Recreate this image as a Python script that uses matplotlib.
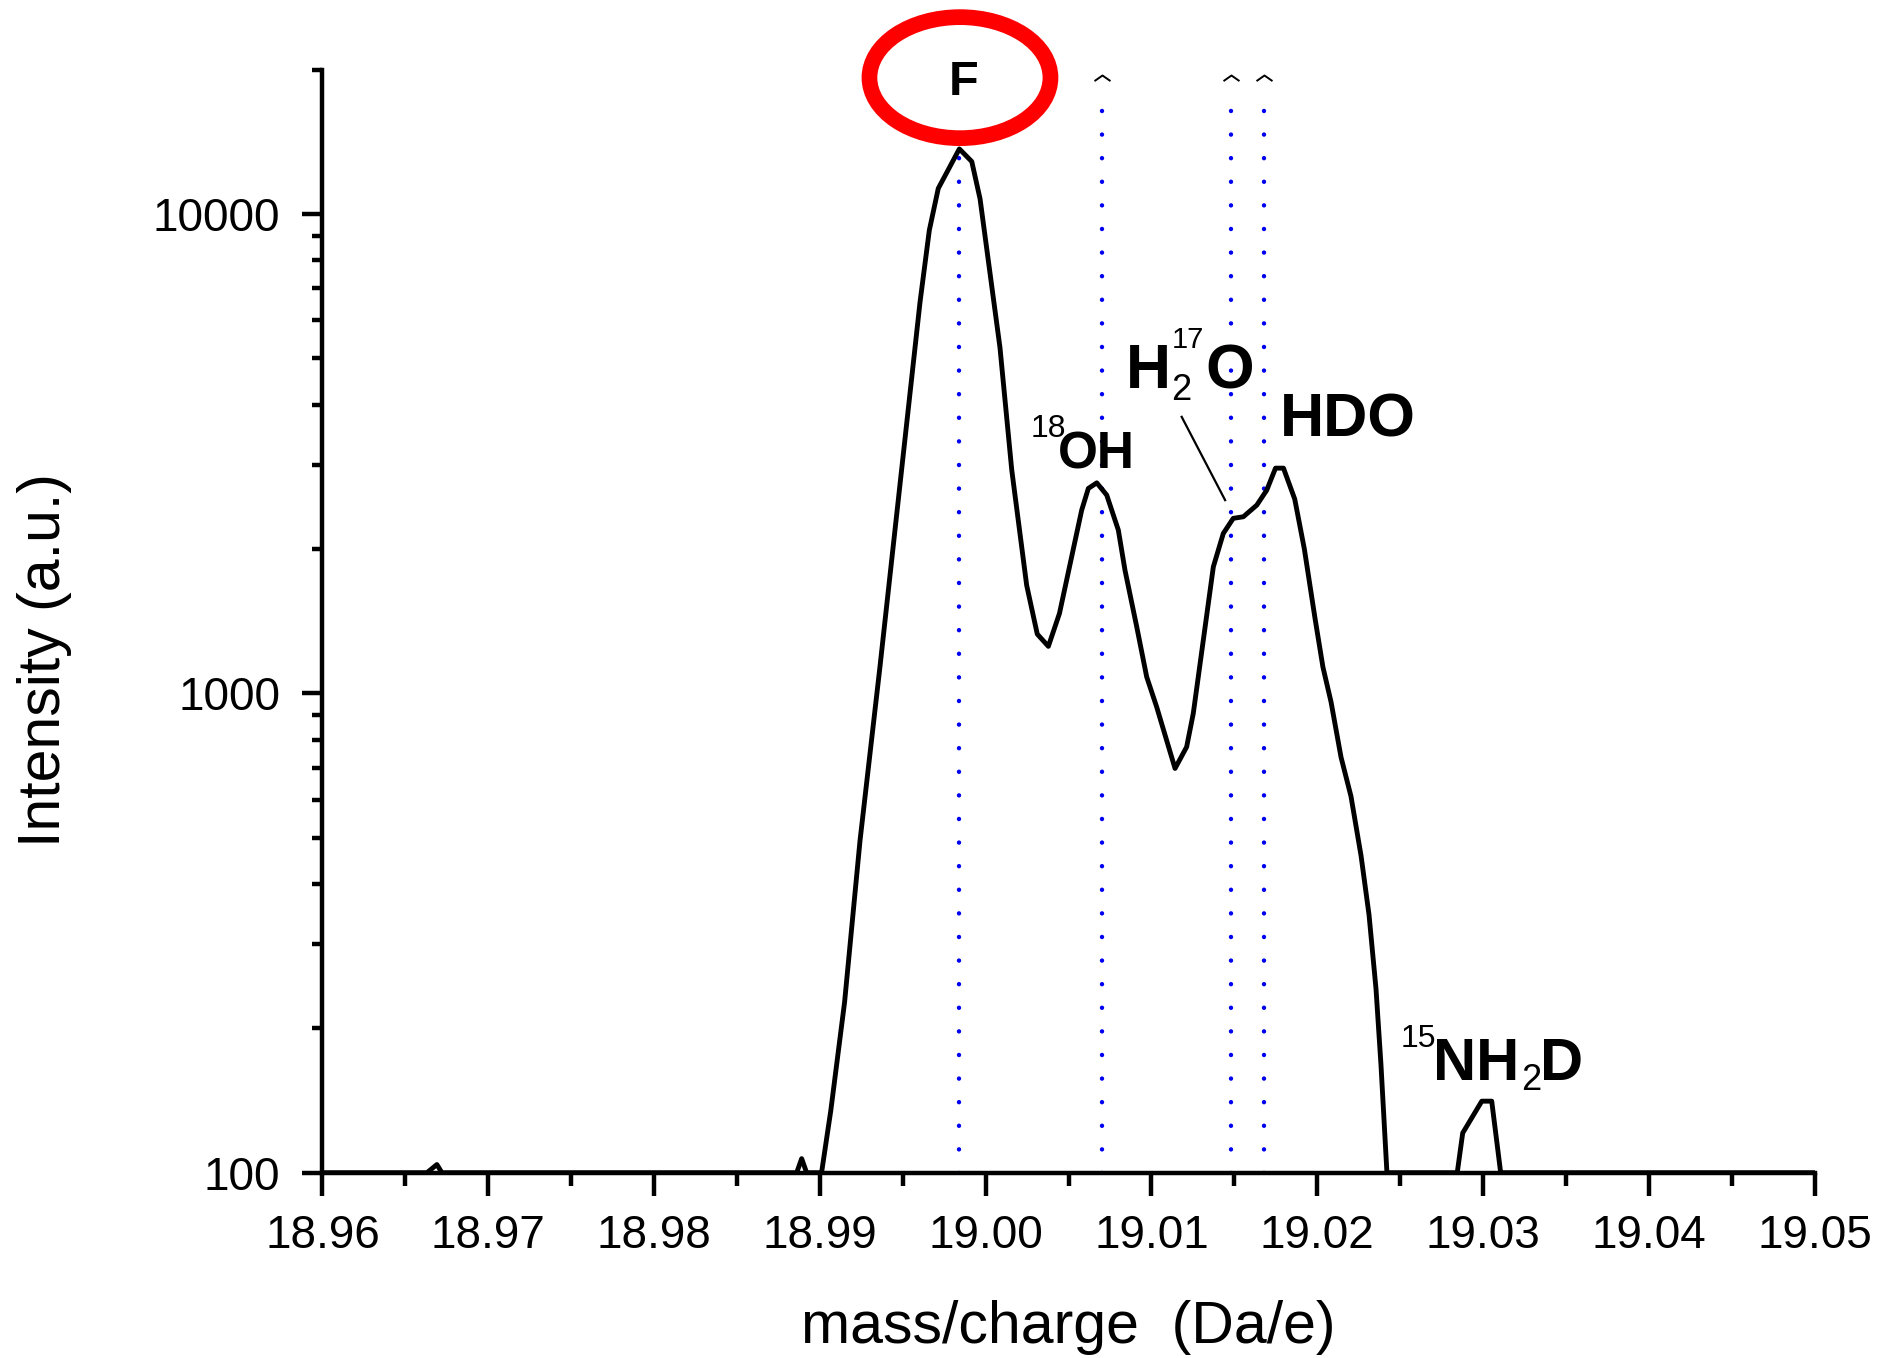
import numpy as np
import matplotlib
matplotlib.use('Agg')
import matplotlib.pyplot as plt
from matplotlib.patches import Ellipse
from matplotlib.path import Path
from matplotlib.ticker import AutoMinorLocator, LogLocator, NullFormatter

plt.rcParams['font.family'] = ['Liberation Sans', 'DejaVu Sans']

# spectrum (mass/charge, intensity)
mass = [18.9600, 18.9663, 18.9669, 18.9672, 18.9886, 18.9889, 18.9892,
        18.9901, 18.99066, 18.99149, 18.99242, 18.99363, 18.99604, 18.99660,
        18.99714, 18.99765, 18.99841, 18.99916, 18.99966, 19.00086, 19.00157,
        19.00247, 19.00311, 19.00378, 19.00445, 19.00579, 19.00619, 19.00670,
        19.00730, 19.00800, 19.00840, 19.00911, 19.00971, 19.01031, 19.01142,
        19.01212, 19.01252, 19.01373, 19.01433, 19.01493, 19.01554, 19.01635,
        19.01695, 19.01748, 19.01796, 19.01864, 19.01922, 19.01986, 19.02034,
        19.02083, 19.02143, 19.02203, 19.02264, 19.02312, 19.02354, 19.02384,
        19.02420, 19.02844, 19.02877, 19.02992, 19.03052, 19.03106, 19.0500]
intensity = [100, 100, 104, 100, 100, 107, 100,
             100, 135, 227, 493, 1142, 6552, 9247,
             11303, 12196, 13664, 12861, 10748, 5265, 2925,
             1681, 1329, 1253, 1468, 2411, 2675, 2748,
             2591, 2190, 1807, 1376, 1082, 937, 697,
             773, 908, 1836, 2155, 2317, 2335, 2469,
             2653, 2949, 2949, 2541, 1999, 1435, 1134,
             959, 736, 610, 458, 345, 242, 168,
             100, 100, 121, 141, 141, 100, 100]
assert len(mass) == len(intensity)

# reference ion positions (dotted lines)
ion_mass = [18.9984, 19.0070, 19.0148, 19.0168]
ion_top = [15800, 17600, 17600, 17600]
caret_y = 19470

xticks = [18.96, 18.97, 18.98, 18.99, 19.00, 19.01, 19.02, 19.03, 19.04, 19.05]
yticks = [100, 1000, 10000]

fig = plt.figure(figsize=(18.82, 13.58), dpi=100)
ax = fig.add_axes([0.17136, 0.13645, 0.79288, 0.81230])
ax.set_yscale('log')
ax.set_xlim(18.96, 19.05)
ax.set_ylim(100, 20000)

# blue dotted ion lines
for m, top in zip(ion_mass, ion_top):
    ax.plot([m, m], [100, top], color='#0000f0', lw=3.2,
            linestyle=(0, (0.01, 5.3)), dash_capstyle='round', zorder=2)
caret = Path([[-1, -0.7], [0, 0], [1, -0.7]], [Path.MOVETO, Path.LINETO, Path.LINETO])
ax.plot(ion_mass[1:], [caret_y] * 3, linestyle='none', marker=caret, ms=11.5,
        mfc='none', mec='black', mew=1.4, clip_on=False, zorder=3)

ax.plot(mass, intensity, color='black', lw=3.5, zorder=3)

# labels
bold = dict(fontweight='bold', ha='left', va='baseline', color='black')
small = dict(ha='left', va='baseline', color='black')
ax.text(18.99869, 17690, 'F', fontsize=35, fontweight='bold', ha='center',
        va='baseline', zorder=6)
ax.text(19.00268, 3428, '18', fontsize=23, **small)
ax.text(19.00436, 2944, 'OH', fontsize=37, **bold)
ax.text(19.00846, 4324, 'H', fontsize=45, **bold)
ax.text(19.01118, 4088, '2', fontsize=26, **small)
ax.text(19.01120, 5248, '17', fontsize=21, **small)
ax.text(19.01322, 4324, 'O', fontsize=45, **bold)
ax.text(19.01775, 3428, 'HDO', fontsize=44, **bold)
ax.text(19.02500, 183.2, '15', fontsize=23, **small)
ax.text(19.02700, 156.1, 'NH', fontsize=43, **bold)
ax.text(19.03232, 148.8, '2', fontsize=26, **small)
ax.text(19.03345, 156.1, 'D', fontsize=43, **bold)
ax.plot([19.01182, 19.01444], [3773, 2529], color='black', lw=1.6, zorder=3)

# red circle around F
ax.add_patch(Ellipse((0.4272, 0.9927), 0.1213, 0.1097, transform=ax.transAxes,
                     fill=False, ec='#ff0000', lw=11.3, clip_on=False, zorder=5))

for side in ['top', 'right']:
    ax.spines[side].set_visible(False)
for side in ['left', 'bottom']:
    ax.spines[side].set_linewidth(3.2)

ax.set_xticks(xticks)
ax.set_xticklabels([f'{t:.2f}' for t in xticks])
ax.xaxis.set_minor_locator(AutoMinorLocator(2))
ax.set_yticks(yticks)
ax.set_yticklabels([str(t) for t in yticks])
ax.yaxis.set_minor_locator(LogLocator(base=10, subs=np.arange(2, 10)))
ax.yaxis.set_minor_formatter(NullFormatter())

ax.tick_params(axis='x', which='major', direction='out', length=16.5, width=3.2,
               labelsize=33, pad=13)
ax.tick_params(axis='x', which='minor', direction='out', length=9.4, width=3.2)
ax.tick_params(axis='y', which='major', direction='out', length=14.4, width=3.2,
               labelsize=33, pad=16)
ax.tick_params(axis='y', which='minor', direction='out', length=7.2, width=3.2)

ax.set_xlabel('mass/charge  (Da/e)', fontsize=42.5)
ax.xaxis.set_label_coords(0.5, -0.1154)
ax.set_ylabel('Intensity (a.u.)', fontsize=42.5)
ax.yaxis.set_label_coords(-0.1679, 0.4648)

fig.savefig('out.png', dpi=100)
